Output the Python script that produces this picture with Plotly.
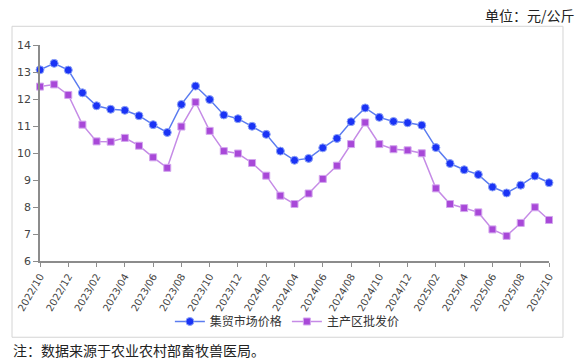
import plotly.graph_objects as go

months = ["2022/10", "2022/11", "2022/12",
          "2023/01", "2023/02", "2023/03", "2023/04", "2023/05", "2023/06",
          "2023/07", "2023/08", "2023/09", "2023/10", "2023/11", "2023/12",
          "2024/01", "2024/02", "2024/03", "2024/04", "2024/05", "2024/06",
          "2024/07", "2024/08", "2024/09", "2024/10", "2024/11", "2024/12",
          "2025/01", "2025/02", "2025/03", "2025/04", "2025/05", "2025/06",
          "2025/07", "2025/08", "2025/09", "2025/10"]

market = [13.08, 13.32, 13.07, 12.23, 11.75, 11.62, 11.58, 11.38, 11.05, 10.76,
          11.80, 12.48, 11.98, 11.41, 11.27, 10.99, 10.69, 10.07, 9.73, 9.80,
          10.19, 10.54, 11.16, 11.67, 11.32, 11.17, 11.12, 11.03, 10.20, 9.61,
          9.38, 9.20, 8.74, 8.52, 8.81, 9.15, 8.90]

wholesale = [12.46, 12.54, 12.15, 11.05, 10.43, 10.42, 10.56, 10.27, 9.84, 9.45,
             10.98, 11.88, 10.82, 10.07, 9.98, 9.63, 9.16, 8.42, 8.11, 8.50,
             9.04, 9.53, 10.33, 11.13, 10.33, 10.14, 10.10, 9.99, 8.69, 8.11,
             7.96, 7.80, 7.17, 6.93, 7.41, 7.99, 7.52]

tick_labels = months[::2]
y_ticks = [6, 7, 8, 9, 10, 11, 12, 13, 14]

fig = go.Figure()
fig.add_trace(go.Scatter(
    x=months, y=market, name="集贸市场价格", mode="lines+markers",
    line=dict(color="#5b7cf0", width=1.5),
    marker=dict(symbol="circle", size=8, color="#1a33f5", line=dict(color="#8fa4f7", width=1)),
    cliponaxis=False))
fig.add_trace(go.Scatter(
    x=months, y=wholesale, name="主产区批发价", mode="lines+markers",
    line=dict(color="#c58be6", width=1.5),
    marker=dict(symbol="square", size=7, color="#a848d8", line=dict(color="#d3a6ee", width=1)),
    cliponaxis=False))

font_main = "Noto Sans CJK SC, Noto Sans, sans-serif"

fig.update_layout(
    width=579, height=362,
    paper_bgcolor="white", plot_bgcolor="white",
    margin=dict(l=40, r=30, t=45, b=101, autoexpand=False),
    font=dict(family=font_main, size=11, color="#333333"),
    showlegend=True,
    legend=dict(orientation="h", x=0.486, xanchor="center", y=-0.28, yanchor="middle",
                font=dict(size=12, color="#333333"), itemwidth=30, bgcolor="rgba(0,0,0,0)"),
    xaxis=dict(type="category", range=[0, len(months) - 1], tickmode="array",
               tickvals=tick_labels, ticktext=tick_labels, tickangle=-60, automargin=False,
               showgrid=False, zeroline=False, showline=True, linecolor="#8c8c8c",
               linewidth=1.5, ticks="outside", ticklen=4, tickcolor="#8c8c8c",
               tickfont=dict(family="DejaVu Sans, sans-serif", size=10, color="#444444")),
    yaxis=dict(range=[6, 14], tickvals=y_ticks, showgrid=False, zeroline=False, automargin=False,
               showline=True, linecolor="#8c8c8c", linewidth=1.5, ticks="outside",
               ticklen=5, tickcolor="#8c8c8c",
               tickfont=dict(family="DejaVu Sans, sans-serif", size=11, color="#444444")),
    shapes=[dict(type="rect", xref="paper", yref="paper",
                 x0=-0.055, x1=1.0275, y0=-0.353, y1=1.0866,
                 line=dict(color="#d4d4d4", width=1), fillcolor="rgba(0,0,0,0)", layer="below")],
    annotations=[
        dict(text="单位：元/公斤", xref="paper", yref="paper", x=1.055, y=1.1375,
             xanchor="right", yanchor="middle", showarrow=False,
             font=dict(family=font_main, size=14, color="#222222")),
        dict(text="注：数据来源于农业农村部畜牧兽医局。", xref="paper", yref="paper",
             x=-0.057, y=-0.413, xanchor="left", yanchor="middle", showarrow=False,
             font=dict(family=font_main, size=14, color="#222222")),
    ],
)

fig.write_html("out.html", config={"displayModeBar": False},
               post_script="document.body.style.margin='0';document.body.style.padding='0';")
